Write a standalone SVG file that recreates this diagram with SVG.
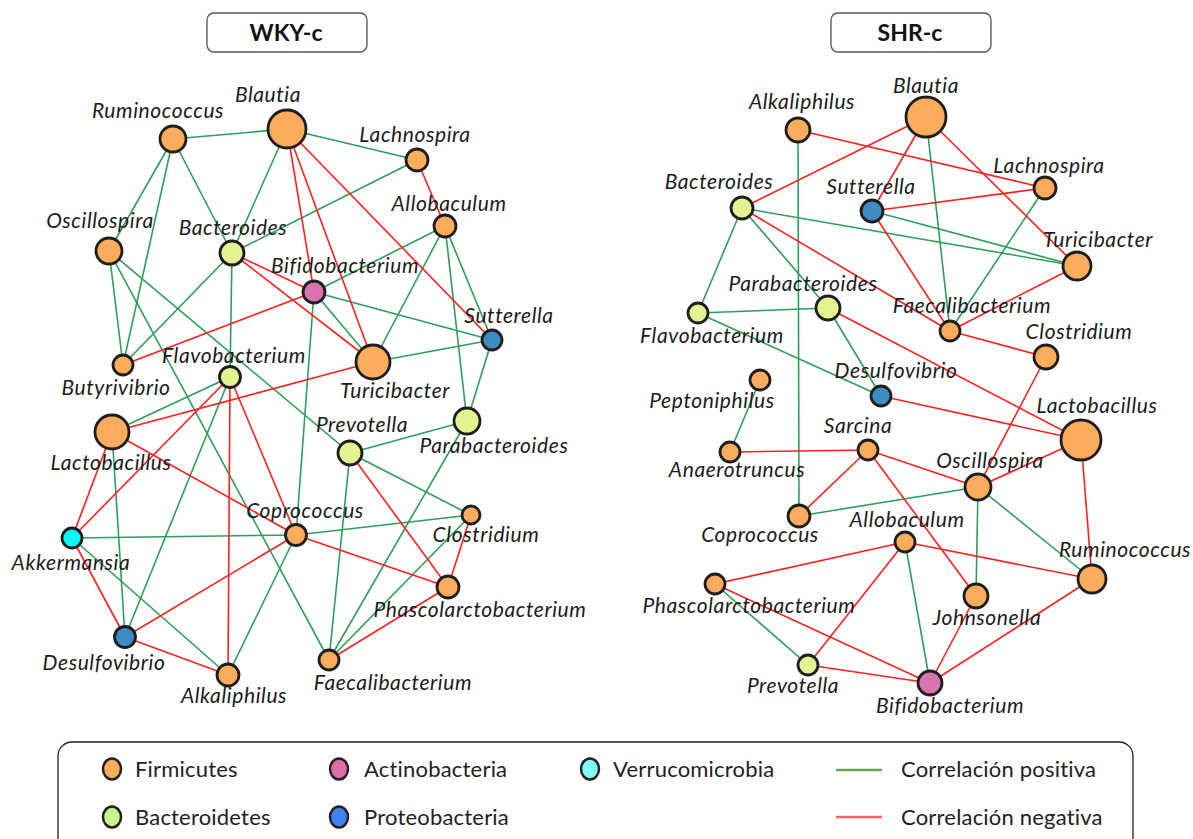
<svg xmlns="http://www.w3.org/2000/svg" width="1193" height="839" viewBox="0 0 1193 839">
<style>
.pos{stroke:#2e9e5a;stroke-width:1.6;fill:none}
.neg{stroke:#ff2020;stroke-width:1.6;fill:none}
.n{stroke:#1e1e1e;stroke-width:2.8}
.f{fill:#fbad5d}.b{fill:#e4f391}.a{fill:#d873b0}.p{fill:#3d8cc3}.v{fill:#00ffff}
.lbl{font-family:Lato,"Liberation Sans",sans-serif;font-style:italic;font-size:21px;letter-spacing:0.6px;fill:#1c1c1c;text-anchor:middle}
.ttl{font-family:Lato,"Liberation Sans",sans-serif;font-weight:bold;font-size:23px;fill:#111;text-anchor:middle}
.box{fill:#fff;stroke:#555;stroke-width:1.3}
.lg{font-family:Lato,"Liberation Sans",sans-serif;font-size:22px;letter-spacing:0.2px;fill:#222}
.lc{stroke:#222;stroke-width:2.5}
</style>
<rect width="1193" height="839" fill="#fff"/>
<g id="title-wky"><rect class="box" x="207" y="13" width="160" height="39" rx="7"/><text class="ttl" x="286" y="41">WKY-c</text></g>
<g id="title-shr"><rect class="box" x="831" y="13" width="160" height="39" rx="7"/><text class="ttl" x="910" y="41">SHR-c</text></g>
<g id="connectors">
<!-- WKY-c positive -->
<line class="pos" x1="173" y1="139" x2="287" y2="129"/>
<line class="pos" x1="287" y1="129" x2="417" y2="160"/>
<line class="pos" x1="173" y1="139" x2="109" y2="251"/>
<line class="pos" x1="173" y1="139" x2="123" y2="365"/>
<line class="pos" x1="173" y1="139" x2="232" y2="253"/>
<line class="pos" x1="287" y1="129" x2="232" y2="253"/>
<line class="pos" x1="417" y1="160" x2="232" y2="253"/>
<line class="pos" x1="109" y1="251" x2="123" y2="365"/>
<line class="pos" x1="109" y1="251" x2="350" y2="453"/>
<line class="pos" x1="109" y1="251" x2="329" y2="660"/>
<line class="pos" x1="232" y1="253" x2="230" y2="377"/>
<line class="pos" x1="232" y1="253" x2="123" y2="365"/>
<line class="pos" x1="445" y1="226" x2="314" y2="292"/>
<line class="pos" x1="445" y1="226" x2="373" y2="362"/>
<line class="pos" x1="445" y1="226" x2="467" y2="421"/>
<line class="pos" x1="445" y1="226" x2="492" y2="340"/>
<line class="pos" x1="314" y1="292" x2="492" y2="340"/>
<line class="pos" x1="314" y1="292" x2="373" y2="362"/>
<line class="pos" x1="314" y1="292" x2="296" y2="535"/>
<line class="pos" x1="373" y1="362" x2="492" y2="340"/>
<line class="pos" x1="492" y1="340" x2="467" y2="421"/>
<line class="pos" x1="230" y1="377" x2="112" y2="432"/>
<line class="pos" x1="230" y1="377" x2="125" y2="637"/>
<line class="pos" x1="112" y1="432" x2="125" y2="637"/>
<line class="pos" x1="350" y1="453" x2="467" y2="421"/>
<line class="pos" x1="350" y1="453" x2="329" y2="660"/>
<line class="pos" x1="350" y1="453" x2="471" y2="515"/>
<line class="pos" x1="467" y1="421" x2="329" y2="660"/>
<line class="pos" x1="72" y1="538" x2="296" y2="535"/>
<line class="pos" x1="72" y1="538" x2="228" y2="675"/>
<line class="pos" x1="296" y1="535" x2="471" y2="515"/>
<line class="pos" x1="296" y1="535" x2="228" y2="675"/>
<line class="pos" x1="471" y1="515" x2="329" y2="660"/>
<!-- WKY-c negative -->
<line class="neg" x1="417" y1="160" x2="445" y2="226"/>
<line class="neg" x1="287" y1="129" x2="314" y2="292"/>
<line class="neg" x1="287" y1="129" x2="373" y2="362"/>
<line class="neg" x1="287" y1="129" x2="492" y2="340"/>
<line class="neg" x1="232" y1="253" x2="314" y2="292"/>
<line class="neg" x1="232" y1="253" x2="373" y2="362"/>
<line class="neg" x1="314" y1="292" x2="123" y2="365"/>
<line class="neg" x1="373" y1="362" x2="112" y2="432"/>
<line class="neg" x1="230" y1="377" x2="72" y2="538"/>
<line class="neg" x1="230" y1="377" x2="228" y2="675"/>
<line class="neg" x1="230" y1="377" x2="296" y2="535"/>
<line class="neg" x1="112" y1="432" x2="72" y2="538"/>
<line class="neg" x1="112" y1="432" x2="296" y2="535"/>
<line class="neg" x1="350" y1="453" x2="448" y2="587"/>
<line class="neg" x1="72" y1="538" x2="125" y2="637"/>
<line class="neg" x1="296" y1="535" x2="448" y2="587"/>
<line class="neg" x1="296" y1="535" x2="125" y2="637"/>
<line class="neg" x1="471" y1="515" x2="448" y2="587"/>
<line class="neg" x1="448" y1="587" x2="329" y2="660"/>
<line class="neg" x1="125" y1="637" x2="228" y2="675"/>
<!-- SHR-c positive -->
<line class="pos" x1="798" y1="130" x2="799" y2="516"/>
<line class="pos" x1="926" y1="117" x2="950" y2="331"/>
<line class="pos" x1="1045" y1="188" x2="950" y2="331"/>
<line class="pos" x1="742" y1="208" x2="1077" y2="266"/>
<line class="pos" x1="872" y1="211" x2="1077" y2="266"/>
<line class="pos" x1="742" y1="208" x2="698" y2="313"/>
<line class="pos" x1="742" y1="208" x2="828" y2="308"/>
<line class="pos" x1="828" y1="308" x2="698" y2="313"/>
<line class="pos" x1="828" y1="308" x2="881" y2="396"/>
<line class="pos" x1="698" y1="313" x2="881" y2="396"/>
<line class="pos" x1="760" y1="380" x2="730" y2="452"/>
<line class="pos" x1="978" y1="487" x2="799" y2="516"/>
<line class="pos" x1="978" y1="487" x2="976" y2="596"/>
<line class="pos" x1="978" y1="487" x2="1092" y2="579"/>
<line class="pos" x1="905" y1="542" x2="930" y2="683"/>
<line class="pos" x1="715" y1="584" x2="808" y2="665"/>
<!-- SHR-c negative -->
<line class="neg" x1="798" y1="130" x2="1045" y2="188"/>
<line class="neg" x1="926" y1="117" x2="742" y2="208"/>
<line class="neg" x1="926" y1="117" x2="872" y2="211"/>
<line class="neg" x1="926" y1="117" x2="1077" y2="266"/>
<line class="neg" x1="1045" y1="188" x2="872" y2="211"/>
<line class="neg" x1="872" y1="211" x2="950" y2="331"/>
<line class="neg" x1="742" y1="208" x2="950" y2="331"/>
<line class="neg" x1="1077" y1="266" x2="950" y2="331"/>
<line class="neg" x1="828" y1="308" x2="1081" y2="440"/>
<line class="neg" x1="950" y1="331" x2="1046" y2="357"/>
<line class="neg" x1="1046" y1="357" x2="978" y2="487"/>
<line class="neg" x1="881" y1="396" x2="1081" y2="440"/>
<line class="neg" x1="730" y1="452" x2="868" y2="450"/>
<line class="neg" x1="868" y1="450" x2="978" y2="487"/>
<line class="neg" x1="868" y1="450" x2="799" y2="516"/>
<line class="neg" x1="868" y1="450" x2="976" y2="596"/>
<line class="neg" x1="978" y1="487" x2="1081" y2="440"/>
<line class="neg" x1="1081" y1="440" x2="1092" y2="579"/>
<line class="neg" x1="905" y1="542" x2="715" y2="584"/>
<line class="neg" x1="905" y1="542" x2="1092" y2="579"/>
<line class="neg" x1="905" y1="542" x2="808" y2="665"/>
<line class="neg" x1="715" y1="584" x2="930" y2="683"/>
<line class="neg" x1="808" y1="665" x2="930" y2="683"/>
<line class="neg" x1="976" y1="596" x2="930" y2="683"/>
<line class="neg" x1="1092" y1="579" x2="930" y2="683"/>
</g>
<!-- WKY-c nodes -->
<g id="w-ruminococcus"><circle class="n f" cx="173" cy="139" r="13"/><text class="lbl" x="158" y="118">Ruminococcus</text></g>
<g id="w-blautia"><circle class="n f" cx="287" cy="129" r="19"/><text class="lbl" x="268" y="102">Blautia</text></g>
<g id="w-lachnospira"><circle class="n f" cx="417" cy="160" r="11"/><text class="lbl" x="415" y="142">Lachnospira</text></g>
<g id="w-allobaculum"><circle class="n f" cx="445" cy="226" r="11"/><text class="lbl" x="449" y="211">Allobaculum</text></g>
<g id="w-oscillospira"><circle class="n f" cx="109" cy="251" r="13"/><text class="lbl" x="100" y="228">Oscillospira</text></g>
<g id="w-bacteroides"><circle class="n b" cx="232" cy="253" r="12"/><text class="lbl" x="233" y="235">Bacteroides</text></g>
<g id="w-bifidobacterium"><circle class="n a" cx="314" cy="292" r="11"/><text class="lbl" x="345" y="273">Bifidobacterium</text></g>
<g id="w-sutterella"><circle class="n p" cx="492" cy="340" r="10"/><text class="lbl" x="509" y="323">Sutterella</text></g>
<g id="w-butyrivibrio"><circle class="n f" cx="123" cy="365" r="10"/><text class="lbl" x="116" y="395">Butyrivibrio</text></g>
<g id="w-flavobacterium"><circle class="n b" cx="230" cy="377" r="10.5"/><text class="lbl" x="234" y="363">Flavobacterium</text></g>
<g id="w-turicibacter"><circle class="n f" cx="373" cy="362" r="17"/><text class="lbl" x="395" y="398">Turicibacter</text></g>
<g id="w-lactobacillus"><circle class="n f" cx="112" cy="432" r="17"/><text class="lbl" x="111" y="470">Lactobacillus</text></g>
<g id="w-parabacteroides"><circle class="n b" cx="467" cy="421" r="13"/><text class="lbl" x="494" y="453">Parabacteroides</text></g>
<g id="w-prevotella"><circle class="n b" cx="350" cy="453" r="12"/><text class="lbl" x="362" y="432">Prevotella</text></g>
<g id="w-akkermansia"><circle class="n v" cx="72" cy="538" r="10"/><text class="lbl" x="71" y="570">Akkermansia</text></g>
<g id="w-coprococcus"><circle class="n f" cx="296" cy="535" r="10.5"/><text class="lbl" x="305" y="518">Coprococcus</text></g>
<g id="w-clostridium"><circle class="n f" cx="471" cy="515" r="9"/><text class="lbl" x="486" y="542">Clostridium</text></g>
<g id="w-phascolarctobacterium"><circle class="n f" cx="448" cy="587" r="11"/><text class="lbl" x="480" y="617">Phascolarctobacterium</text></g>
<g id="w-desulfovibrio"><circle class="n p" cx="125" cy="637" r="10.5"/><text class="lbl" x="104" y="670">Desulfovibrio</text></g>
<g id="w-alkaliphilus"><circle class="n f" cx="228" cy="675" r="11"/><text class="lbl" x="234" y="703">Alkaliphilus</text></g>
<g id="w-faecalibacterium"><circle class="n f" cx="329" cy="660" r="10"/><text class="lbl" x="393" y="690">Faecalibacterium</text></g>
<!-- SHR-c nodes -->
<g id="s-alkaliphilus"><circle class="n f" cx="798" cy="130" r="12"/><text class="lbl" x="802" y="109">Alkaliphilus</text></g>
<g id="s-blautia"><circle class="n f" cx="926" cy="117" r="20"/><text class="lbl" x="926" y="93">Blautia</text></g>
<g id="s-lachnospira"><circle class="n f" cx="1045" cy="188" r="11"/><text class="lbl" x="1049" y="173">Lachnospira</text></g>
<g id="s-bacteroides"><circle class="n b" cx="742" cy="208" r="11"/><text class="lbl" x="719" y="189">Bacteroides</text></g>
<g id="s-sutterella"><circle class="n p" cx="872" cy="211" r="11"/><text class="lbl" x="871" y="194">Sutterella</text></g>
<g id="s-turicibacter"><circle class="n f" cx="1077" cy="266" r="14"/><text class="lbl" x="1098" y="247">Turicibacter</text></g>
<g id="s-parabacteroides"><circle class="n b" cx="828" cy="308" r="12"/><text class="lbl" x="803" y="291">Parabacteroides</text></g>
<g id="s-flavobacterium"><circle class="n b" cx="698" cy="313" r="10"/><text class="lbl" x="712" y="343">Flavobacterium</text></g>
<g id="s-faecalibacterium"><circle class="n f" cx="950" cy="331" r="10"/><text class="lbl" x="972" y="313">Faecalibacterium</text></g>
<g id="s-clostridium"><circle class="n f" cx="1046" cy="357" r="12"/><text class="lbl" x="1079" y="339">Clostridium</text></g>
<g id="s-peptoniphilus"><circle class="n f" cx="760" cy="380" r="10"/><text class="lbl" x="712" y="408">Peptoniphilus</text></g>
<g id="s-desulfovibrio"><circle class="n p" cx="881" cy="396" r="10"/><text class="lbl" x="896" y="378">Desulfovibrio</text></g>
<g id="s-lactobacillus"><circle class="n f" cx="1081" cy="440" r="20"/><text class="lbl" x="1097" y="413">Lactobacillus</text></g>
<g id="s-sarcina"><circle class="n f" cx="868" cy="450" r="10"/><text class="lbl" x="858" y="433">Sarcina</text></g>
<g id="s-anaerotruncus"><circle class="n f" cx="730" cy="452" r="10"/><text class="lbl" x="737" y="477">Anaerotruncus</text></g>
<g id="s-oscillospira"><circle class="n f" cx="978" cy="487" r="13"/><text class="lbl" x="990" y="468">Oscillospira</text></g>
<g id="s-coprococcus"><circle class="n f" cx="799" cy="516" r="11"/><text class="lbl" x="760" y="542">Coprococcus</text></g>
<g id="s-allobaculum"><circle class="n f" cx="905" cy="542" r="10"/><text class="lbl" x="907" y="527">Allobaculum</text></g>
<g id="s-phascolarctobacterium"><circle class="n f" cx="715" cy="584" r="10"/><text class="lbl" x="749" y="613">Phascolarctobacterium</text></g>
<g id="s-ruminococcus"><circle class="n f" cx="1092" cy="579" r="14"/><text class="lbl" x="1125" y="557">Ruminococcus</text></g>
<g id="s-johnsonella"><circle class="n f" cx="976" cy="596" r="12"/><text class="lbl" x="987" y="625">Johnsonella</text></g>
<g id="s-prevotella"><circle class="n b" cx="808" cy="665" r="10"/><text class="lbl" x="793" y="693">Prevotella</text></g>
<g id="s-bifidobacterium"><circle class="n a" cx="930" cy="683" r="12"/><text class="lbl" x="950" y="713">Bifidobacterium</text></g>
<!-- Legend -->
<g id="legend">
<rect x="58" y="742" width="1075" height="110" rx="14" fill="#fff" stroke="#222" stroke-width="1.3"/>
<ellipse class="lc" cx="112" cy="769" rx="9" ry="10.5" fill="#fbad5d"/><text class="lg" x="135" y="777">Firmicutes</text>
<ellipse class="lc" cx="112" cy="817" rx="9" ry="10.5" fill="#c8f58c"/><text class="lg" x="135" y="825">Bacteroidetes</text>
<ellipse class="lc" cx="339" cy="769" rx="9" ry="10.5" fill="#de6fab"/><text class="lg" x="364" y="777">Actinobacteria</text>
<ellipse class="lc" cx="339" cy="817" rx="9" ry="10.5" fill="#4183f5"/><text class="lg" x="364" y="825">Proteobacteria</text>
<ellipse class="lc" cx="590" cy="769" rx="9" ry="10.5" fill="#80fff8"/><text class="lg" x="613" y="777">Verrucomicrobia</text>
<line x1="836" y1="770" x2="882" y2="770" stroke="#6aa84f" stroke-width="2.5"/><text class="lg" x="901" y="777">Correlación positiva</text>
<line x1="836" y1="817" x2="882" y2="817" stroke="#f26363" stroke-width="2.5"/><text class="lg" x="901" y="825">Correlación negativa</text>
</g>
</svg>
